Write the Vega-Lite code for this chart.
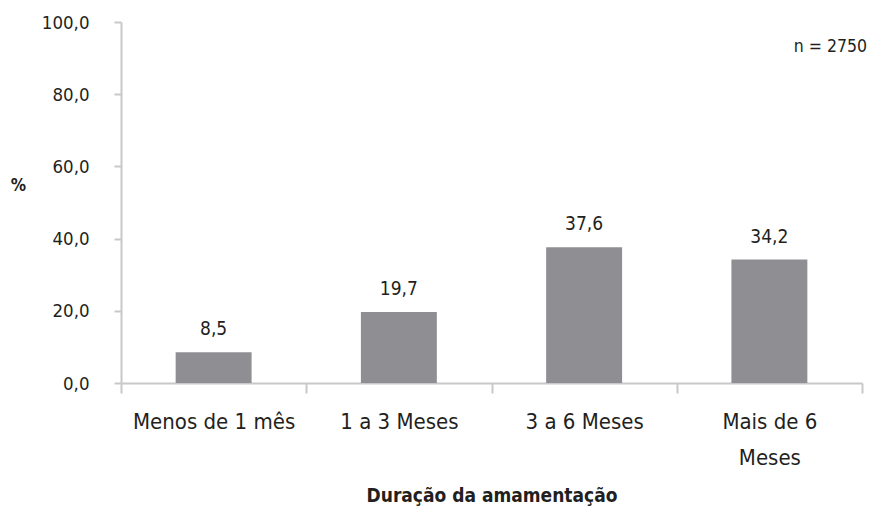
{
  "$schema": "https://vega.github.io/schema/vega-lite/v6.json",
  "width": 741,
  "height": 361,
  "autosize": {"type": "none"},
  "padding": {"left": 121, "top": 22, "right": 7, "bottom": 132},
  "background": "white",
  "config": {
    "view": {"stroke": null},
    "locale": {"number": {"decimal": ",", "thousands": ".", "grouping": [3], "currency": ["", ""]}},
    "font": "Liberation Sans Narrow, DejaVu Sans Condensed, sans-serif"
  },
  "title": {
    "text": "n = 2750",
    "anchor": "end",
    "orient": "top",
    "offset": -42,
    "dx": 4,
    "fontSize": 17.5,
    "fontWeight": "normal",
    "color": "#231f20",
    "font": "Liberation Sans Narrow, DejaVu Sans Condensed, sans-serif"
  },
  "data": {
    "values": [
      {"cat": "Menos de 1 mês", "pct": 8.5},
      {"cat": "1 a 3 Meses", "pct": 19.7},
      {"cat": "3 a 6 Meses", "pct": 37.6},
      {"cat": "Mais de 6 Meses", "pct": 34.2}
    ]
  },
  "encoding": {
    "x": {
      "field": "cat",
      "type": "nominal",
      "sort": null,
      "scale": {"paddingInner": 0, "paddingOuter": 0},
      "axis": {
        "title": "Duração da amamentação",
        "titleFontSize": 19,
        "titleFontWeight": "bold",
        "titleColor": "#231f20",
        "titlePadding": 18,
        "labelAngle": 0,
        "labelFontSize": 22,
        "labelColor": "#231f20",
        "labelPadding": 18,
        "labelLineHeight": 36,
        "labelExpr": "datum.label == 'Mais de 6 Meses' ? ['Mais de 6', 'Meses'] : datum.label",
        "tickBand": "extent",
        "tickSize": 10,
        "tickWidth": 2,
        "tickColor": "#c8c8ca",
        "domainColor": "#c8c8ca",
        "domainWidth": 2,
        "grid": false
      }
    },
    "y": {
      "field": "pct",
      "type": "quantitative",
      "scale": {"domain": [0, 100]},
      "axis": {
        "title": "%",
        "titleAngle": 0,
        "titleFontSize": 17,
        "titleFontWeight": "bold",
        "titleColor": "#231f20",
        "titleX": -103,
        "titleY": 163,
        "titleAlign": "center",
        "titleBaseline": "middle",
        "values": [0, 20, 40, 60, 80, 100],
        "format": ".1f",
        "labelFontSize": 18.5,
        "labelColor": "#231f20",
        "labelPadding": 25,
        "tickSize": 7,
        "tickWidth": 2,
        "tickColor": "#c8c8ca",
        "domainColor": "#c8c8ca",
        "domainWidth": 2,
        "grid": false
      }
    }
  },
  "layer": [
    {"mark": {"type": "bar", "color": "#8f8f93", "width": {"band": 0.41}}},
    {
      "mark": {"type": "text", "dy": -23, "fontSize": 19, "color": "#231f20", "baseline": "middle"},
      "encoding": {"text": {"field": "pct", "type": "quantitative", "format": ".1f"}}
    }
  ]
}
